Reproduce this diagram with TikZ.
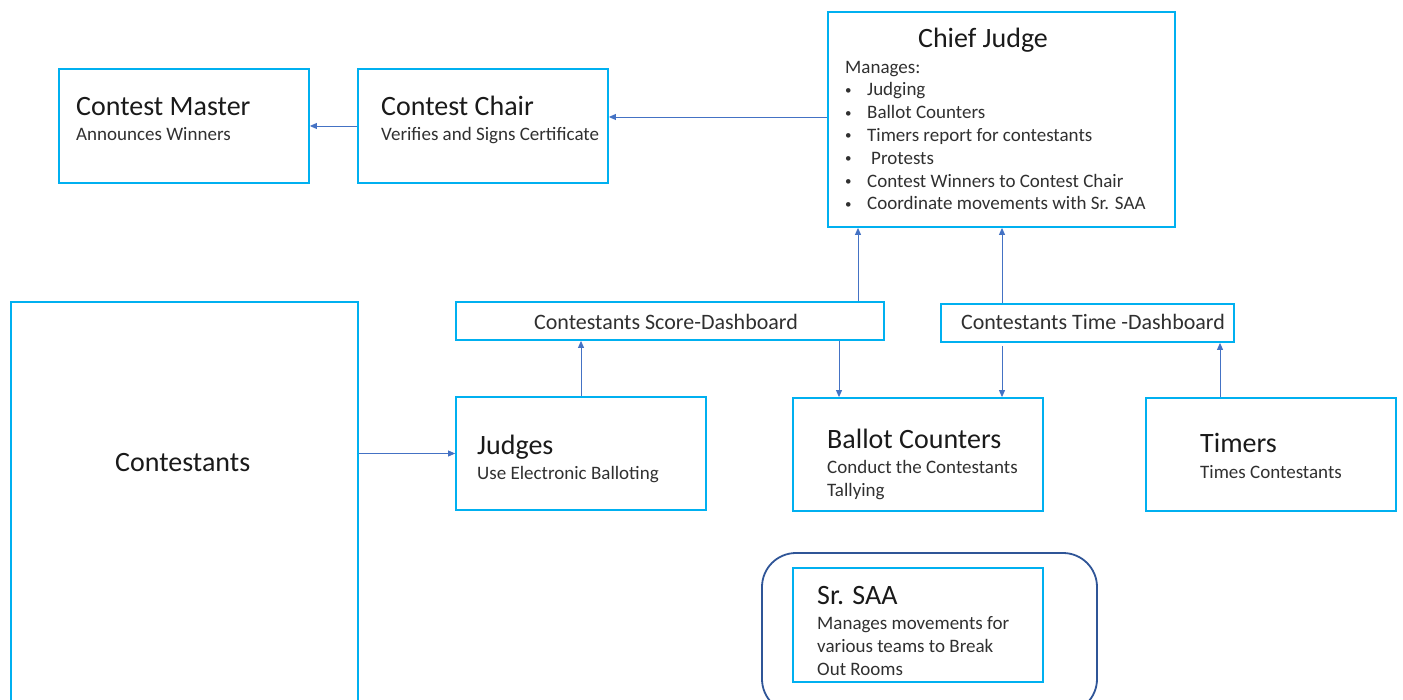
\documentclass[tikz,border=0pt]{standalone}
\usepackage{fontspec}
\setmainfont{Carlito}
\usetikzlibrary{arrows.meta,positioning}

\definecolor{boxblue}{HTML}{00B0F0}
\definecolor{arrowblue}{HTML}{4472C4}
\definecolor{framenavy}{HTML}{2F5597}
\definecolor{titlegray}{HTML}{1A1A1A}
\definecolor{subgray}{HTML}{303030}

\tikzset{
	box/.style={draw=boxblue, line width=1.8pt, minimum width=250pt, minimum height=114pt, inner sep=0pt},
	link/.style={draw=arrowblue, line width=0.9pt, -{Triangle[length=7pt,width=6pt]}},
	title/.style={anchor=base west, inner sep=0pt, font=\fontsize{28}{32}\selectfont, text=titlegray},
	sub/.style={anchor=base west, inner sep=0pt, font=\fontsize{19}{23}\selectfont, text=subgray},
	dashtext/.style={anchor=base, inner sep=0pt, font=\fontsize{22}{26}\selectfont, text=subgray},
}

\begin{document}
\begin{tikzpicture}[x=1pt,y=-1pt]
	\useasboundingbox (0,0) rectangle (1403,700);
	
	%boxes
	\node[box] (master) at (184,126) {};
	\node[box] (chair) at (483,126) {};
	\node[box, minimum width=347pt, minimum height=215pt] (chief) at (1001.5,119.5) {};
	\node[box, minimum width=347pt, minimum height=430pt] (contestants) at (184.5,517) {};
	\node[box, minimum width=428pt, minimum height=38pt] (scoredash) at (670,321) {};
	\node[box, minimum width=293pt, minimum height=38pt] (timedash) at (1087.5,323) {};
	\node[box, minimum height=113pt] (judges) at (581,453.5) {};
	\node[box, minimum height=113pt] (ballot) at (918,454.5) {};
	\node[box, minimum height=113pt] (timers) at (1271,454.5) {};
	\node[draw=framenavy, line width=1.8pt, rounded corners=34pt, minimum width=335pt, minimum height=160pt] (saaframe) at (929.5,633) {};
	\node[box] (saa) at (918,625) {};
	
	%texts
	\node[title] at (76,116) {Contest Master};
	\node[sub] at (76,141) {Announces Winners};
	\node[title] at (381,116) {Contest Chair};
	\node[sub] at (381,141) {Verifies and Signs Certificate};
	
	\node[title, anchor=base] at (983,48) {Chief Judge};
	\node[sub] at (845,74) {Manages:};
	\foreach \task [count=\i] in {Judging, Ballot Counters, Timers report for contestants, \hspace{4pt}Protests, Contest Winners to Contest Chair, Coordinate movements with Sr. SAA} {
		\node[sub, font=\fontsize{13}{15}\selectfont] at (845,71.5+22.8*\i) {•};
		\node[sub] at (867,73.2+22.8*\i) {\task};
	}
	
	\node[dashtext] at (666,330) {Contestants Score-Dashboard};
	\node[dashtext] at (1093,330) {Contestants Time -Dashboard};
	
	\node[title] at (115,471) {Contestants};
	\node[title] at (477,454) {Judges};
	\node[sub] at (477,479) {Use Electronic Balloting};
	\node[title] at (827,448) {Ballot Counters};
	\node[sub] at (827,473) {Conduct the Contestants};
	\node[sub] at (827,496) {Tallying};
	\node[title] at (1200,453) {Timers};
	\node[sub] at (1200,478) {Times Contestants};
	\node[title] at (817,604) {Sr. SAA};
	\node[sub] at (817,629) {Manages movements for};
	\node[sub] at (817,652) {various teams to Break};
	\node[sub] at (817,675) {Out Rooms};
	
	%arrows
	\coordinate (scoreup) at (858,0);
	\coordinate (scoredown) at (839,0);
	\coordinate (timeline) at (1002,0);
	\coordinate (timersup) at (1220,0);
	\draw[link] (chief.west |- 0,117) -- (chair.east |- 0,117);
	\draw[link] (chair.west) -- (master.east);
	\draw[link] (contestants.east |- judges.west) -- (judges.west);
	\draw[link] (judges.north) -- (judges.north |- scoredash.south);
	\draw[link] (scoreup |- scoredash.north) -- (scoreup |- chief.south);
	\draw[link] (scoredown |- scoredash.south) -- (scoredown |- ballot.north);
	\draw[link] (timeline |- timedash.north) -- (timeline |- chief.south);
	\draw[link] ([yshift=-3pt]timeline |- timedash.south) -- (timeline |- ballot.north);
	\draw[link] (timersup |- timers.north) -- (timersup |- timedash.south);
\end{tikzpicture}
\end{document}
